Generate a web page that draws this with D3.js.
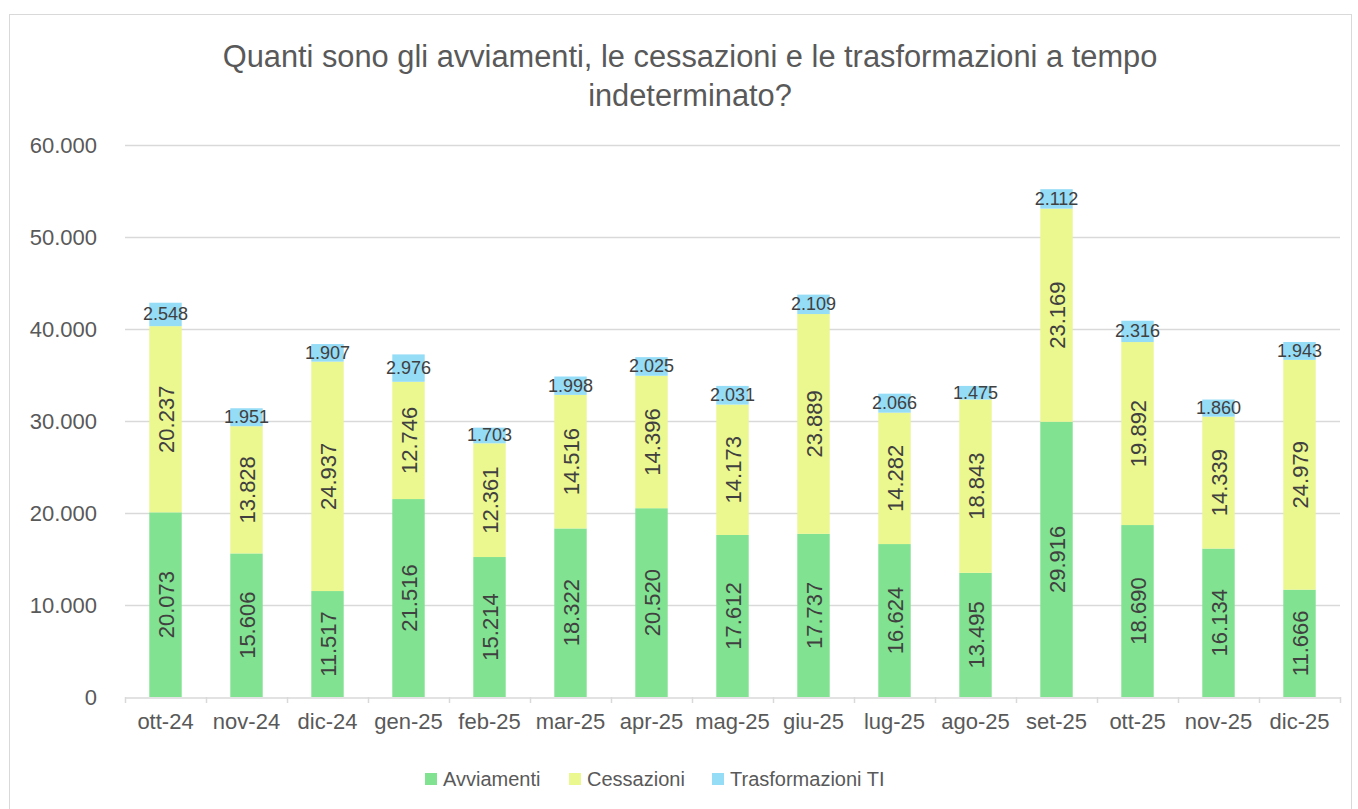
<!DOCTYPE html>
<html>
<head>
<meta charset="utf-8">
<script src="https://cdn.jsdelivr.net/npm/d3@7"></script>
<style>
  body { margin: 0; background: #fff; }
  text { font-family: "Liberation Sans", Arial, sans-serif; }
</style>
</head>
<body>
<svg id="chart" width="1358" height="809"></svg>
<script>
var months = ["ott-24","nov-24","dic-24","gen-25","feb-25","mar-25","apr-25","mag-25","giu-25","lug-25","ago-25","set-25","ott-25","nov-25","dic-25"];
var avviamenti = [20073,15606,11517,21516,15214,18322,20520,17612,17737,16624,13495,29916,18690,16134,11666];
var cessazioni = [20237,13828,24937,12746,12361,14516,14396,14173,23889,14282,18843,23169,19892,14339,24979];
var trasformazioni = [2548,1951,1907,2976,1703,1998,2025,2031,2109,2066,1475,2112,2316,1860,1943];
var seriesNames = ["Avviamenti","Cessazioni","Trasformazioni TI"];
var yTicks = [0,10000,20000,30000,40000,50000,60000];
var colors = ["#81E291","#EBF78F","#95DCF7"];

var svg = d3.select("#chart");
var fmt = function(v) { return d3.format(",")(v).replace(/,/g, "."); };

// chart frame
svg.append("rect").attr("x", 9.5).attr("y", 14.5).attr("width", 1342).attr("height", 800)
  .attr("fill", "#fff").attr("stroke", "#d9d9d9");

var plotLeft = 125, plotRight = 1340, plotTop = 145, plotBottom = 697;

var x = d3.scaleBand().domain(months).range([plotLeft, plotRight]).paddingInner(0.6).paddingOuter(0.3);
var y = d3.scaleLinear().domain([0, 60000]).range([plotBottom, plotTop]);

// title
svg.append("text").attr("x", 690).attr("y", 67).attr("text-anchor", "middle")
  .attr("font-size", 30.8).attr("fill", "#595959")
  .text("Quanti sono gli avviamenti, le cessazioni e le trasformazioni a tempo");
svg.append("text").attr("x", 690).attr("y", 106).attr("text-anchor", "middle")
  .attr("font-size", 30.8).attr("fill", "#595959").text("indeterminato?");

// gridlines
svg.append("g").selectAll("line").data(yTicks.slice(1)).enter().append("line")
  .attr("x1", plotLeft).attr("x2", plotRight)
  .attr("y1", d => Math.round(y(d)) + 0.5).attr("y2", d => Math.round(y(d)) + 0.5)
  .attr("stroke", "#d9d9d9").attr("stroke-width", 1.5);

// y labels
svg.append("g").selectAll("text").data(yTicks).enter().append("text")
  .attr("x", 97).attr("y", d => y(d) + 8).attr("text-anchor", "end")
  .attr("font-size", 22).attr("fill", "#595959").text(d => fmt(d));

// stack
var rows = months.map(function(m, i) {
  return { month: m, a: avviamenti[i], c: cessazioni[i], t: trasformazioni[i] };
});
var stack = d3.stack().keys(["a","c","t"])(rows);

var groups = svg.append("g").selectAll("g").data(stack).enter().append("g")
  .attr("fill", (d, i) => colors[i]);
groups.selectAll("rect").data(d => d).enter().append("rect")
  .attr("x", d => x(d.data.month))
  .attr("width", x.bandwidth())
  .attr("y", d => y(d[1]))
  .attr("height", d => y(d[0]) - y(d[1]));

// x axis
var xAxis = d3.axisBottom(x).tickSize(0).tickFormat(d => d);
var gx = svg.append("g").attr("transform", "translate(0," + (plotBottom + 0.5) + ")").call(xAxis);
gx.select(".domain").attr("stroke", "#d9d9d9").attr("stroke-width", 1.5);
gx.selectAll("text").attr("font-size", 22).attr("fill", "#595959").attr("dy", "1.3em")
  .style("font-family", "Liberation Sans, Arial, sans-serif");
var boundaries = d3.range(months.length + 1).map(i => plotLeft + i * (plotRight - plotLeft) / months.length);
svg.append("g").selectAll("line").data(boundaries).enter().append("line")
  .attr("x1", d => Math.round(d) + 0.5).attr("x2", d => Math.round(d) + 0.5)
  .attr("y1", plotBottom).attr("y2", plotBottom + 6).attr("stroke", "#d9d9d9").attr("stroke-width", 1.5);

// data labels: rotated for first two series
[0, 1].forEach(function(k) {
  svg.append("g").selectAll("text").data(stack[k]).enter().append("text")
    .attr("transform", function(d) {
      var cx = x(d.data.month) + x.bandwidth() / 2;
      var cy = (y(d[0]) + y(d[1])) / 2;
      return "translate(" + (cx + 8) + "," + cy + ") rotate(-90)";
    })
    .attr("text-anchor", "middle").attr("font-size", 22).attr("fill", "#404040")
    .text(d => fmt(d[1] - d[0]));
});
svg.append("g").selectAll("text").data(stack[2]).enter().append("text")
  .attr("x", d => x(d.data.month) + x.bandwidth() / 2)
  .attr("y", d => (y(d[0]) + y(d[1])) / 2 + 6)
  .attr("text-anchor", "middle").attr("font-size", 18).attr("fill", "#404040")
  .text(d => fmt(d[1] - d[0]));

// legend
var legendX = [425, 569, 712];
var lg = svg.append("g").selectAll("g").data(seriesNames).enter().append("g")
  .attr("transform", (d, i) => "translate(" + legendX[i] + ",773)");
lg.append("rect").attr("width", 12).attr("height", 12).attr("fill", (d, i) => colors[i]);
lg.append("text").attr("x", 18).attr("y", 13).attr("font-size", 20).attr("fill", "#595959").text(d => d);
</script>
</body>
</html>
